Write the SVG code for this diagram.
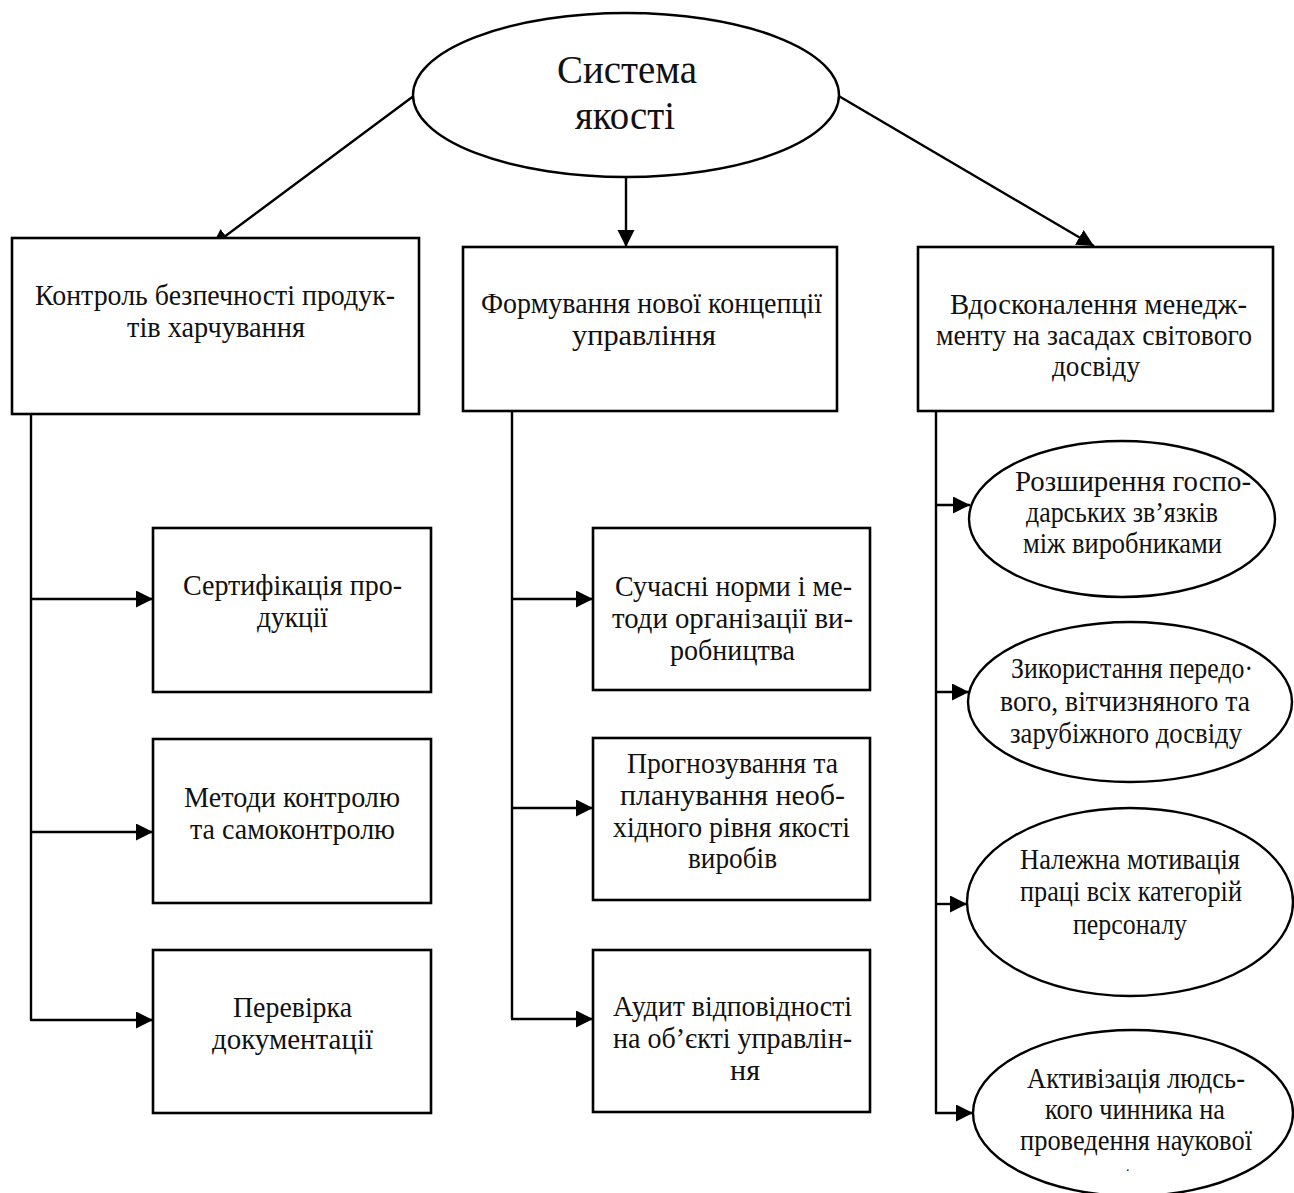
<svg xmlns="http://www.w3.org/2000/svg" width="1294" height="1193" viewBox="0 0 1294 1193">
<defs>
<marker id="arr" markerUnits="userSpaceOnUse" markerWidth="19" markerHeight="18" refX="17" refY="8.5" orient="auto"><path d="M0,0 L17,8.5 L0,17 z" fill="#000"/></marker>
<style>
.box{fill:#fff;stroke:#000;stroke-width:2.6}
.el{fill:#fff;stroke:#000;stroke-width:2.4}
.ln{fill:none;stroke:#000;stroke-width:2.4}
.ar{fill:none;stroke:#000;stroke-width:2.4;marker-end:url(#arr)}
text{font-family:"Liberation Serif","Times New Roman",serif;font-size:29px;fill:#111}
.big{font-size:40px}
.dot{font-size:14px}
</style>
</defs>
<rect width="1294" height="1193" fill="#fff"/>

<g id="connectors">
<line class="ar" x1="415" y1="95" x2="212" y2="246"/>
<line class="ar" x1="626" y1="177" x2="626" y2="247"/>
<line class="ar" x1="837" y1="95" x2="1094" y2="246"/>
<polyline class="ln" points="31,414 31,1020"/>
<line class="ar" x1="31" y1="599" x2="153" y2="599"/>
<line class="ar" x1="31" y1="832" x2="153" y2="832"/>
<line class="ar" x1="30" y1="1020" x2="153" y2="1020"/>
<polyline class="ln" points="512,411 512,1019"/>
<line class="ar" x1="512" y1="599" x2="593" y2="599"/>
<line class="ar" x1="512" y1="808" x2="593" y2="808"/>
<line class="ar" x1="511" y1="1019" x2="593" y2="1019"/>
<polyline class="ln" points="936,412 936,1113"/>
<line class="ar" x1="936" y1="505" x2="970" y2="505"/>
<line class="ar" x1="936" y1="692" x2="969" y2="692"/>
<line class="ar" x1="936" y1="904" x2="967" y2="904"/>
<line class="ar" x1="935" y1="1113" x2="973" y2="1113"/>
</g>

<g id="root">
<ellipse class="el" cx="626" cy="95" rx="213" ry="82"/>
<text class="big" x="557" y="83" textLength="140" lengthAdjust="spacingAndGlyphs">Система</text>
<text class="big" x="575" y="129" textLength="100" lengthAdjust="spacingAndGlyphs">якості</text>
</g>

<g id="nodeA">
<rect class="box" x="12" y="238" width="407" height="176"/>
<text x="35" y="305" textLength="360" lengthAdjust="spacingAndGlyphs">Контроль безпечності продук-</text>
<text x="127" y="337" textLength="178" lengthAdjust="spacingAndGlyphs">тів харчування</text>
</g>

<g id="nodeB">
<rect class="box" x="463" y="247" width="374" height="164"/>
<text x="481" y="313" textLength="341" lengthAdjust="spacingAndGlyphs">Формування нової концепції</text>
<text x="572" y="345" textLength="144" lengthAdjust="spacingAndGlyphs">управління</text>
</g>

<g id="nodeC">
<rect class="box" x="918" y="247" width="355" height="164"/>
<text x="950" y="314" textLength="297" lengthAdjust="spacingAndGlyphs">Вдосконалення менедж-</text>
<text x="936" y="345" textLength="316" lengthAdjust="spacingAndGlyphs">менту на засадах світового</text>
<text x="1052" y="376" textLength="88" lengthAdjust="spacingAndGlyphs">досвіду</text>
</g>

<g id="nodeA1">
<rect class="box" x="153" y="528" width="278" height="164"/>
<text x="183" y="595" textLength="219" lengthAdjust="spacingAndGlyphs">Сертифікація про-</text>
<text x="257" y="627" textLength="71" lengthAdjust="spacingAndGlyphs">дукції</text>
</g>

<g id="nodeA2">
<rect class="box" x="153" y="739" width="278" height="164"/>
<text x="184" y="807" textLength="216" lengthAdjust="spacingAndGlyphs">Методи контролю</text>
<text x="190" y="839" textLength="205" lengthAdjust="spacingAndGlyphs">та самоконтролю</text>
</g>

<g id="nodeA3">
<rect class="box" x="153" y="950" width="278" height="163"/>
<text x="233" y="1017" textLength="119" lengthAdjust="spacingAndGlyphs">Перевірка</text>
<text x="212" y="1049" textLength="161" lengthAdjust="spacingAndGlyphs">документації</text>
</g>

<g id="nodeB1">
<rect class="box" x="593" y="528" width="277" height="162"/>
<text x="615" y="596" textLength="237" lengthAdjust="spacingAndGlyphs">Сучасні норми і ме-</text>
<text x="612" y="628" textLength="241" lengthAdjust="spacingAndGlyphs">тоди організації ви-</text>
<text x="670" y="660" textLength="125" lengthAdjust="spacingAndGlyphs">робництва</text>
</g>

<g id="nodeB2">
<rect class="box" x="593" y="738" width="277" height="162"/>
<text x="627" y="773" textLength="211" lengthAdjust="spacingAndGlyphs">Прогнозування та</text>
<text x="620" y="805" textLength="225" lengthAdjust="spacingAndGlyphs">планування необ-</text>
<text x="613" y="837" textLength="237" lengthAdjust="spacingAndGlyphs">хідного рівня якості</text>
<text x="688" y="868" textLength="89" lengthAdjust="spacingAndGlyphs">виробів</text>
</g>

<g id="nodeB3">
<rect class="box" x="593" y="950" width="277" height="162"/>
<text x="613" y="1016" textLength="239" lengthAdjust="spacingAndGlyphs">Аудит відповідності</text>
<text x="613" y="1048" textLength="239" lengthAdjust="spacingAndGlyphs">на об’єкті управлін-</text>
<text x="730" y="1080" textLength="30" lengthAdjust="spacingAndGlyphs">ня</text>
</g>

<g id="nodeC1">
<ellipse class="el" cx="1122" cy="519" rx="153" ry="78"/>
<text x="1015" y="491" textLength="236" lengthAdjust="spacingAndGlyphs">Розширення госпо-</text>
<text x="1026" y="522" textLength="192" lengthAdjust="spacingAndGlyphs">дарських зв’язків</text>
<text x="1023" y="553" textLength="199" lengthAdjust="spacingAndGlyphs">між виробниками</text>
</g>

<g id="nodeC2">
<ellipse class="el" cx="1130" cy="702" rx="162" ry="80"/>
<text x="1011" y="678" textLength="242" lengthAdjust="spacingAndGlyphs">Зикористання передо·</text>
<text x="1000" y="711" textLength="250" lengthAdjust="spacingAndGlyphs">вого, вітчизняного та</text>
<text x="1010" y="743" textLength="232" lengthAdjust="spacingAndGlyphs">зарубіжного досвіду</text>
</g>

<g id="nodeC3">
<ellipse class="el" cx="1130" cy="902" rx="163" ry="94"/>
<text x="1020" y="869" textLength="220" lengthAdjust="spacingAndGlyphs">Належна мотивація</text>
<text x="1020" y="901" textLength="222" lengthAdjust="spacingAndGlyphs">праці всіх категорій</text>
<text x="1073" y="934" textLength="114" lengthAdjust="spacingAndGlyphs">персоналу</text>
</g>

<g id="nodeC4">
<ellipse class="el" cx="1133" cy="1113" rx="160" ry="83"/>
<text x="1027" y="1088" textLength="218" lengthAdjust="spacingAndGlyphs">Активізація людсь-</text>
<text x="1045" y="1119" textLength="180" lengthAdjust="spacingAndGlyphs">кого чинника на</text>
<text x="1020" y="1150" textLength="232" lengthAdjust="spacingAndGlyphs">проведення наукової</text>
<text class="dot" x="1126" y="1171">.</text>
</g>
</svg>
